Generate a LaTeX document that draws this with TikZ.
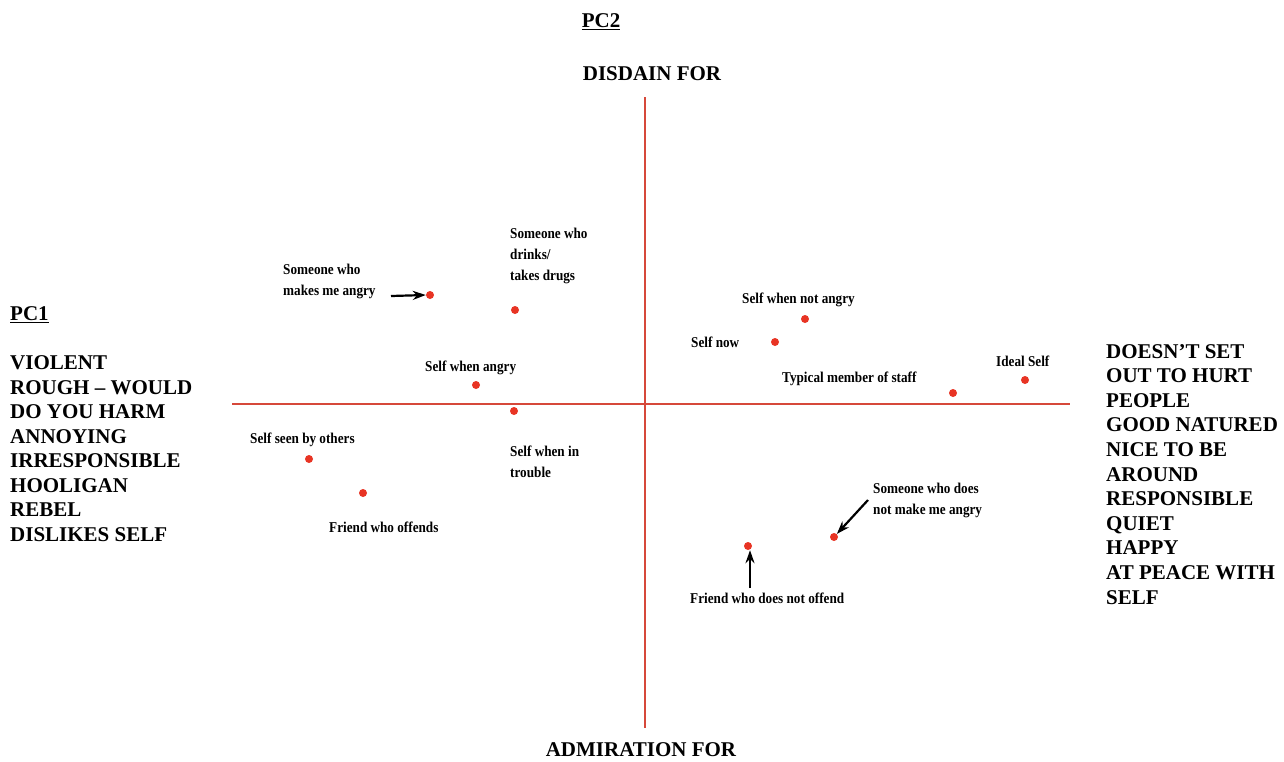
\documentclass[tikz,border=0pt]{standalone}
\usepackage{fontspec}
\setmainfont{Liberation Serif}[BoldFont={Liberation Serif Bold}]
\newfontfamily\labelfont{Liberation Serif}[FakeStretch=0.88,BoldFont={Liberation Serif Bold}]
\usetikzlibrary{arrows.meta}
\definecolor{axisred}{RGB}{214,72,58}
\definecolor{dotred}{RGB}{232,52,36}
% underline with a heavier rule
\newcommand\thickul[1]{\vtop{\hbox{#1}\kern1.6pt\hrule height 1.5pt}}

\begin{document}
\begin{tikzpicture}[x=1pt,y=-1pt,
  axis/.style={draw=axisred,line width=1.8pt},
  heading/.style={font=\fontsize{21}{24.5}\selectfont\bfseries, inner sep=0pt, align=left},
  pointlabel/.style={font=\labelfont\fontsize{15}{21}\selectfont\bfseries, inner sep=0pt, align=left, anchor=base west},
  pt/.style={circle, fill=dotred, inner sep=0pt, minimum size=8pt},
  pointer/.style={-{Stealth[length=13pt,width=9pt]}, line width=2.2pt, black}]

\useasboundingbox (0,0) rectangle (1284,761);

% axes
\coordinate (ytop) at (645,97);
\coordinate (ybot) at (645,728);
\coordinate (xl) at (232,404);
\coordinate (xr) at (1070,404);
\draw[axis] (ytop) -- (ybot);
\draw[axis] (xl) -- (xr);

% axis titles
\node[heading, anchor=base] (pc2) at (601,27) {\thickul{PC2}};
\node[heading, anchor=base] (disdain) at (652,80) {DISDAIN FOR};
\node[heading, anchor=base] (admiration) at (641,756) {ADMIRATION FOR};
\node[heading, anchor=base west] (pc1) at (10,320) {\thickul{PC1}};

% pole descriptions (base anchor sits on the last line)
\node[heading, anchor=base west] (negpole) at (10,541)
  {VIOLENT\\ROUGH – WOULD\\DO YOU HARM\\ANNOYING\\IRRESPONSIBLE\\HOOLIGAN\\REBEL\\DISLIKES SELF};
\node[heading, anchor=base west, font=\fontsize{21}{24.6}\selectfont\bfseries] (pospole) at (1106,604)
  {DOESN’T SET\\OUT TO HURT\\PEOPLE\\GOOD NATURED\\NICE TO BE\\AROUND\\RESPONSIBLE\\QUIET\\HAPPY\\AT PEACE WITH\\SELF};

% plotted elements
\node[pt] (p1) at (430,295) {};
\node[pt] (p2) at (515,310) {};
\node[pt] (p3) at (476,385) {};
\node[pt] (p4) at (514,411) {};
\node[pt] (p5) at (309,459) {};
\node[pt] (p6) at (363,493) {};
\node[pt] (p7) at (805,319) {};
\node[pt] (p8) at (775,342) {};
\node[pt] (p9) at (953,393) {};
\node[pt] (p10) at (1025,380) {};
\node[pt] (p11) at (834,537) {};
\node[pt] (p12) at (748,546) {};

% element labels
\node[pointlabel] (l1) at (283,295) {Someone who\\makes me angry};
\node[pointlabel] (l2) at (510,280) {Someone who\\drinks/\\takes drugs};
\node[pointlabel] (l3) at (425,371) {Self when angry};
\node[pointlabel] (l4) at (510,477) {Self when in\\trouble};
\node[pointlabel] (l5) at (250,443) {Self seen by others};
\node[pointlabel] (l6) at (329,532) {Friend who offends};
\node[pointlabel] (l7) at (742,303) {Self when not angry};
\node[pointlabel] (l8) at (691,347) {Self now};
\node[pointlabel] (l9) at (782,382) {Typical member of staff};
\node[pointlabel] (l10) at (996,366) {Ideal Self};
\node[pointlabel] (l11) at (873,514) {Someone who does\\not make me angry};
\node[pointlabel] (l12) at (690,603) {Friend who does not offend};

% pointers
\coordinate (a1) at (391,296);
\coordinate (a2) at (868,500);
\coordinate (a3) at (750,588);
\draw[pointer] (a1) -- (p1.west);
\draw[pointer] (a2) -- (p11);
\draw[pointer] (a3) -- (a3 |- p12.south);

\end{tikzpicture}
\end{document}
